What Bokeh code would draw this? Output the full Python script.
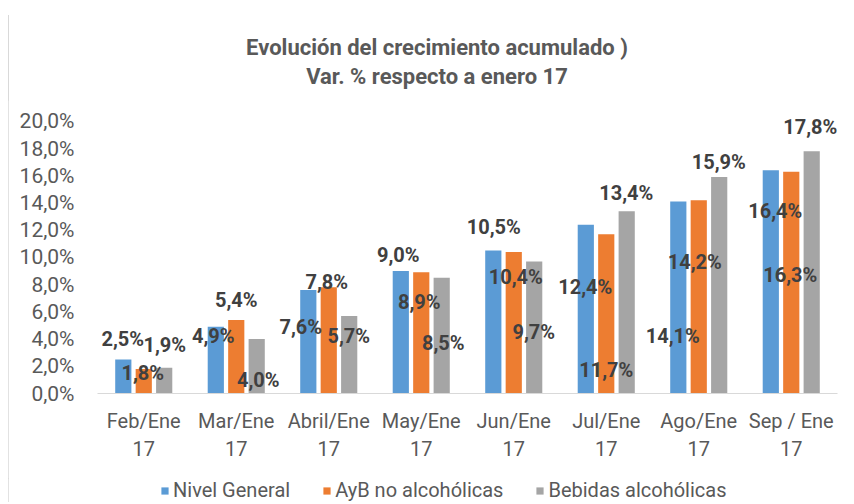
from bokeh.plotting import figure
from bokeh.models import (FactorRange, Range1d, FixedTicker, Legend, LegendItem,
                          ColumnDataSource, Div, Row, Column)
from bokeh.transform import dodge
from bokeh.core.properties import value
from bokeh.embed import file_html
from bokeh.resources import INLINE

# ---------------- data ----------------
categories = ["Feb/Ene\n17", "Mar/Ene\n17", "Abril/Ene\n17", "May/Ene\n17",
              "Jun/Ene\n17", "Jul/Ene\n17", "Ago/Ene\n17", "Sep / Ene\n17"]
series_names = ["Nivel General", "AyB no alcohólicas", "Bebidas alcohólicas"]
nivel_general = [2.5, 4.9, 7.6, 9.0, 10.5, 12.4, 14.1, 16.4]
ayb_no_alcoholicas = [1.8, 5.4, 7.8, 8.9, 10.4, 11.7, 14.2, 16.3]
bebidas_alcoholicas = [1.9, 4.0, 5.7, 8.5, 9.7, 13.4, 15.9, 17.8]
y_ticks = [0, 2, 4, 6, 8, 10, 12, 14, 16, 18, 20]
y_tick_labels = ["0,0%", "2,0%", "4,0%", "6,0%", "8,0%", "10,0%",
                 "12,0%", "14,0%", "16,0%", "18,0%", "20,0%"]
title_line1 = "Evolución del crecimiento acumulado )"
title_line2 = "Var. % respecto a enero 17"

# ---------------- label placement (layout, as in the original chart) ----------------
label_y = [
    [4.04, 4.19, 4.85, 10.15, 12.2, 7.8, 4.26, 13.4],
    [1.54, 6.84, 8.16, 6.69, 8.53, 1.76, 9.63, 8.68],
    [3.53, 0.96, 4.19, 3.68, 4.49, 14.7, 16.99, 19.56],
]
label_dx = [
    [-21, -23, -28, -23, -20, -21, -26, -16],
    [-1, 0, -2, -2, 2, 0, -4, -1],
    [21, 22, 20, 22, 20, 20, 20, 19],
]

colors = ["#5B9BD5", "#ED7D31", "#A5A5A5"]
offsets = [-0.221, 0.0, 0.221]
FONT = "Roboto"
GREY = "#595959"
W = 842

def fmt(v):
    return f"{v:.1f}%".replace(".", ",")

# ---------------- title ----------------
title_div = Div(
    text=(f'<div style="font-family:Roboto;font-weight:bold;font-size:22px;color:{GREY};'
          f'line-height:29px;text-align:center;padding-top:33px;padding-left:16px;'
          f'box-sizing:border-box;width:{W}px;white-space:nowrap">'
          f'{title_line1}<br>{title_line2}</div>'),
    width=W, height=100, margin=0)

# ---------------- main chart ----------------
p = figure(width=W, height=378, x_range=FactorRange(*categories, range_padding=0),
           y_range=Range1d(0, 20.5), output_backend="svg", toolbar_location=None,
           min_border_left=89, min_border_right=13, min_border_top=14,
           min_border_bottom=85, margin=0)
p.outline_line_color = None
p.xgrid.grid_line_color = None
p.ygrid.grid_line_color = None

all_series = [nivel_general, ayb_no_alcoholicas, bebidas_alcoholicas]
sources = []
renderers = []
for i, vals in enumerate(all_series):
    src = ColumnDataSource(dict(cat=categories, val=vals,
                                lab=[fmt(v) for v in vals],
                                ly=label_y[i], dx=label_dx[i]))
    sources.append(src)
    r = p.vbar(x=dodge("cat", offsets[i], range=p.x_range), top="val", width=0.175,
               source=src, fill_color=colors[i], line_color=None)
    renderers.append(r)

for src in sources:
    p.text(x="cat", y="ly", text="lab", x_offset="dx", source=src,
           text_align="center", text_baseline="middle", text_font=value(FONT),
           text_font_style="bold", text_font_size="20px", text_color="#404040")

p.yaxis.ticker = FixedTicker(ticks=y_ticks)
p.yaxis.major_label_overrides = {t: l for t, l in zip(y_ticks, y_tick_labels)}
p.yaxis.axis_line_color = None
p.yaxis.major_tick_line_color = None
p.yaxis.minor_tick_line_color = None
p.yaxis.major_label_standoff = 17
p.yaxis.major_label_text_font = FONT
p.yaxis.major_label_text_font_size = "21px"
p.yaxis.major_label_text_color = GREY

p.xaxis.axis_line_color = "#d9d9d9"
p.xaxis.major_tick_line_color = None
p.xaxis.minor_tick_line_color = None
p.xaxis.major_label_standoff = 9
p.xaxis.major_label_text_font = FONT
p.xaxis.major_label_text_font_size = "20px"
p.xaxis.major_label_text_color = GREY

# ---------------- legend strip ----------------
q = figure(width=W, height=24, x_range=Range1d(0, 1), y_range=Range1d(0, 1),
           output_backend="svg", toolbar_location=None, x_axis_type=None,
           y_axis_type=None, min_border=0, margin=0)
q.outline_line_color = None
q.xgrid.grid_line_color = None
q.ygrid.grid_line_color = None
leg_renderers = [q.vbar(x=[-5], top=[0], width=0.1, fill_color=c, line_color=None)
                 for c in colors]
legend = Legend(items=[LegendItem(label=n, renderers=[r]) for n, r in zip(series_names, leg_renderers)],
                orientation="horizontal", location=(63, 0), border_line_color=None,
                background_fill_alpha=0, label_text_font=FONT, label_text_font_size="20px",
                label_text_color=GREY, glyph_width=9, glyph_height=9, label_standoff=4,
                spacing=32, padding=0, margin=0)
q.add_layout(legend)

edge = Div(text=('<div style="width:9px;height:487px;margin-top:15px;'
                 'border-right:1px solid #d9d9d9;box-sizing:border-box"></div>'),
           width=8, height=502, margin=0)
layout = Row(edge, Column(title_div, p, q, margin=0, spacing=0), margin=0, spacing=0)

open("out.html", "w").write(file_html(layout, INLINE))
